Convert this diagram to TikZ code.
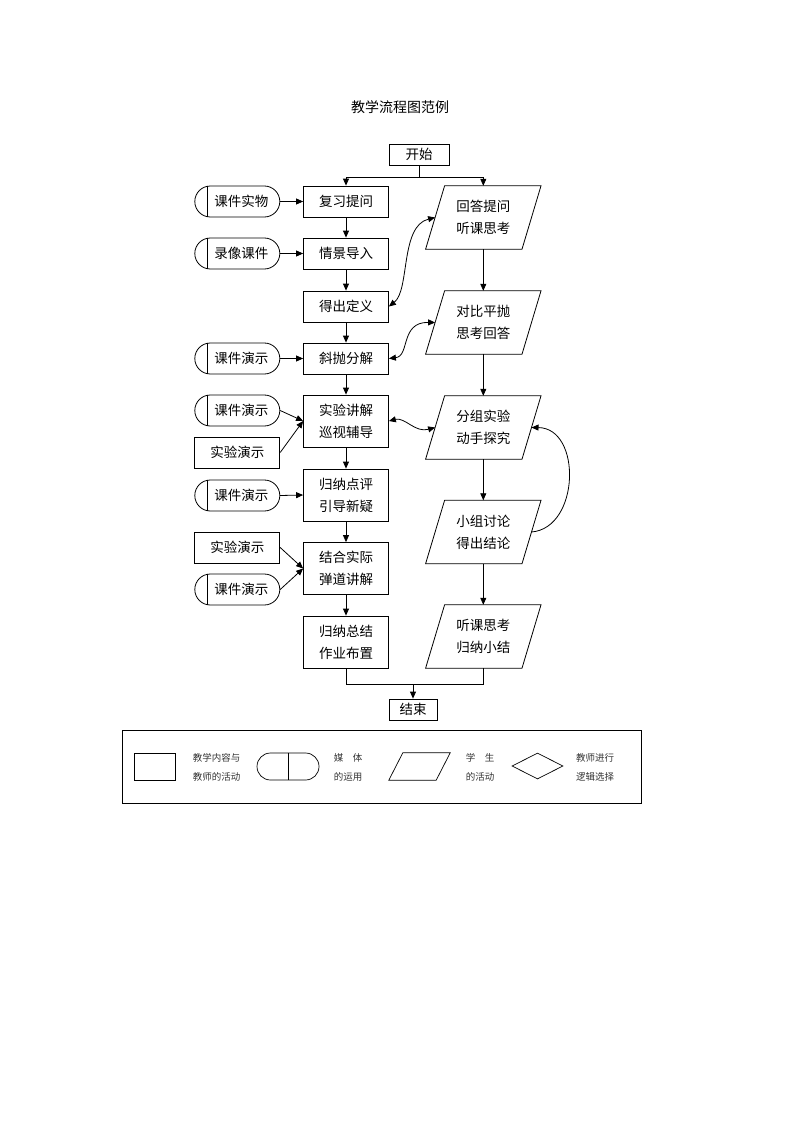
\documentclass[tikz,border=0pt]{standalone}
\usepackage{fontspec}
\newfontfamily\cjk{Noto Sans CJK SC}
\usetikzlibrary{shapes.geometric,arrows.meta}
\tikzset{
  tbox/.style={draw, line width=0.8pt, minimum width=85pt, minimum height=31pt, inner sep=0pt, align=center},
  tbox2/.style={tbox, minimum height=52pt},
  media/.style={draw, line width=0.8pt, rounded corners=15.5pt, minimum width=85pt, minimum height=31pt, inner sep=0pt},
  plainbox/.style={draw, line width=0.8pt, minimum width=85pt, minimum height=31pt, inner sep=0pt},
  para/.style={minimum width=115pt, minimum height=63pt, inner sep=0pt, align=center},
  paraline/.style={line width=0.8pt, line join=miter},
  arr/.style={-{Triangle[length=7pt,width=6pt]}, line width=0.8pt},
  darr/.style={{Triangle[length=7pt,width=6pt]}-{Triangle[length=7pt,width=6pt]}, line width=0.8pt},
  legtext/.style={font=\cjk\fontsize{9.5}{19}\selectfont, text=black!80, align=left, inner sep=0pt},
  legline/.style={draw, line width=0.7pt},
}
\begin{document}
\begin{tikzpicture}[x=1pt, y=-1pt, font=\cjk\fontsize{13.5}{22}\selectfont]
\useasboundingbox (0,0) rectangle (800,1132);

% title
\node[font=\cjk\fontsize{14}{16}\selectfont] (title) at (400,107) {教学流程图范例};

% start / end
\node[tbox, minimum width=60pt, minimum height=21pt] (start) at (419,154.5) {开始};
\node[tbox, minimum width=48pt, minimum height=21pt] (end) at (413,709.5) {结束};

% teacher column
\node[tbox]  (b1) at (346,201.5) {复习提问};
\node[tbox]  (b2) at (346,253.5) {情景导入};
\node[tbox]  (b3) at (346,306.5) {得出定义};
\node[tbox]  (b4) at (346,358.5) {斜抛分解};
\node[tbox2] (b5) at (346,421)   {实验讲解\\巡视辅导};
\node[tbox2] (b6) at (346,495)   {归纳点评\\引导新疑};
\node[tbox2] (b7) at (346,568.5) {结合实际\\弹道讲解};
\node[tbox2] (b8) at (346,642)   {归纳总结\\作业布置};

% student column
\node[para] (p1) at (483.3,217.5) {回答提问\\听课思考};
\node[para] (p2) at (483.3,322.5) {对比平抛\\思考回答};
\node[para] (p3) at (483.3,427.5) {分组实验\\动手探究};
\node[para] (p4) at (483.3,532)   {小组讨论\\得出结论};
\node[para] (p5) at (483.3,636.5) {听课思考\\归纳小结};
\foreach \p in {p1,p2,p3,p4,p5}
  \draw[paraline] ([xshift=19pt]\p.north west) -- (\p.north east)
     -- ([xshift=-19pt]\p.south east) -- (\p.south west) -- cycle;

% media column
\node[media]    (m1) at (237.3,201.5) {\hspace*{8pt}课件实物};
\node[media]    (m2) at (237.3,253.5) {\hspace*{8pt}录像课件};
\node[media]    (m3) at (237.3,358.5) {\hspace*{8pt}课件演示};
\node[media]    (m4) at (237.3,410.5) {\hspace*{8pt}课件演示};
\node[plainbox] (m5) at (237.3,452.5) {实验演示};
\node[media]    (m6) at (237.3,495.5) {\hspace*{8pt}课件演示};
\node[plainbox] (m7) at (237.3,547.5) {实验演示};
\node[media]    (m8) at (237.3,589.5) {\hspace*{8pt}课件演示};
\foreach \m in {m1,m2,m3,m4,m6,m8}
  \draw[line width=0.8pt] ([xshift=12.5pt]\m.north west) -- ([xshift=12.5pt]\m.south west);

% split from start
\coordinate (split) at (419,177);
\draw[line width=0.8pt] (start.south) -- (split);
\draw[arr] (split) -| (b1.north);
\draw[arr] (split) -| (p1.north);

% teacher column arrows
\draw[arr] (b1.south) -- (b2.north);
\draw[arr] (b2.south) -- (b3.north);
\draw[arr] (b3.south) -- (b4.north);
\draw[arr] (b4.south) -- (b5.north);
\draw[arr] (b5.south) -- (b6.north);
\draw[arr] (b6.south) -- (b7.north);
\draw[arr] (b7.south) -- (b8.north);

% student column arrows
\draw[arr] (p1.south) -- (p2.north);
\draw[arr] (p2.south) -- (p3.north);
\draw[arr] (p3.south) -- (p4.north);
\draw[arr] (p4.south) -- (p5.north);

% media arrows
\draw[arr] (m1.east) -- (b1.west);
\draw[arr] (m2.east) -- (b2.west);
\draw[arr] (m3.east) -- (b4.west);
\draw[arr] (m4.east) -- (b5.west);
\draw[arr] (m5.east) -- (b5.west);
\draw[arr] (m6.east) -- (b6.west);
\draw[arr] (m7.east) -- (b7.west);
\draw[arr] (m8.east) -- (b7.west);

% curved interactions
\draw[darr] (b3.east) .. controls (410,290) and (400,226) .. ([xshift=9.5pt]p1.west);
\draw[darr] (b4.east) .. controls (410,356) and (400,322) .. ([xshift=9.5pt]p2.west);
\draw[darr] (b5.east) .. controls (405,417) and (415,433) .. ([xshift=9.5pt]p3.west);
\draw[arr] ([xshift=-9.5pt]p4.east) .. controls (580,528) and (582,428) .. ([xshift=-9.5pt]p3.east);

% merge to end
\coordinate (merge) at (413,684);
\draw[line width=0.8pt] (b8.south) -- ++(0,16) -| (p5.south);
\draw[arr] (merge) -- (end.north);

% legend
\node[draw, line width=0.8pt, minimum width=519pt, minimum height=73pt, inner sep=0pt] (legend) at (381.5,766.5) {};
\node[legline, minimum width=41pt, minimum height=27pt, inner sep=0pt] (lrect) at (154.5,766.5) {};
\node[legtext] (lt1) at (216.5,767.5) {教学内容与\\教师的活动};
\node[legline, rounded corners=13.5pt, minimum width=62pt, minimum height=27pt, inner sep=0pt] (lstad) at (288,766.5) {};
\draw[line width=0.7pt] (lstad.north) -- (lstad.south);
\node[legtext] (lt2) at (348,767.5) {媒\hspace{1em}体\\的运用};
\node[minimum width=61pt, minimum height=27pt, inner sep=0pt] (lpara) at (419.5,766.5) {};
\draw[line width=0.7pt] ([xshift=14pt]lpara.north west) -- (lpara.north east)
   -- ([xshift=-14pt]lpara.south east) -- (lpara.south west) -- cycle;
\node[legtext] (lt3) at (480,767.5) {学\hspace{1em}生\\的活动};
\node[legline, diamond, minimum width=51pt, minimum height=26pt, inner sep=0pt] (ldia) at (537.5,766) {};
\node[legtext] (lt4) at (595,767.5) {教师进行\\逻辑选择};
\end{tikzpicture}
\end{document}
